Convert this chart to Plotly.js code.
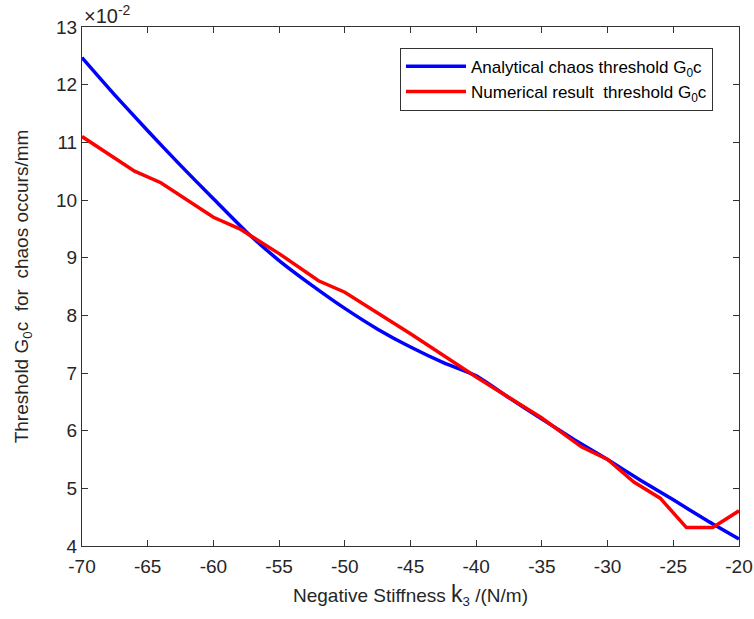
<!DOCTYPE html>
<html><head><meta charset="utf-8">
<script src="https://cdn.plot.ly/plotly-3.0.1.min.js"></script>
<style>html,body{margin:0;padding:0;background:#fff}#chart{width:754px;height:619px}</style>
</head><body><div id="chart"></div>
<script>
// Values in units of 1e-2 mm
const analyticalK3 = [-70,-67.5,-65,-62.5,-60,-57.5,-55,-52.5,-50,-47.5,-45,-42.5,-40,-37.5,-35,-32.5,-30,-27.5,-25,-22.5,-20];
const analyticalG = [12.47,11.82,11.2,10.6,10.02,9.45,8.95,8.52,8.12,7.76,7.45,7.18,6.95,6.57,6.2,5.84,5.5,5.14,4.8,4.45,4.12];
const numericalK3 = [-70,-66,-64,-60,-58,-55,-52,-50,-45,-40,-35,-32,-30,-28,-26,-24,-22,-20];
const numericalG = [11.1,10.5,10.3,9.7,9.5,9.07,8.6,8.4,7.68,6.93,6.22,5.72,5.5,5.11,4.83,4.32,4.32,4.61];
const xTicks = [-70,-65,-60,-55,-50,-45,-40,-35,-30,-25,-20];
const yTicks = [4,5,6,7,8,9,10,11,12,13];

const font = "Liberation Sans, Arial, sans-serif";
const traces = [
  {x: analyticalK3, y: analyticalG, mode: 'lines', name: 'Analytical chaos threshold G<sub>0</sub>c',
   line: {color: '#0000ff', width: 3.5, shape: 'spline', smoothing: 0.6}},
  {x: numericalK3, y: numericalG, mode: 'lines', name: 'Numerical result  threshold G<sub>0</sub>c',
   line: {color: '#ff0000', width: 3.5}}
];
const axisCommon = {showgrid: false, zeroline: false, showline: true, mirror: 'ticks', linecolor: '#333',
  linewidth: 1, ticks: 'inside', ticklen: 6, tickcolor: '#333', tickfont: {family: font, size: 19, color: '#262626'}};
const layout = {
  width: 754, height: 619,
  margin: {l: 82, r: 15, t: 27, b: 73},
  paper_bgcolor: '#fff', plot_bgcolor: '#fff',
  font: {family: font, color: '#262626'},
  xaxis: Object.assign({}, axisCommon, {range: [-70, -20], tickvals: xTicks, ticktext: xTicks.map(String), ticklabelstandoff: 3,
    title: {text: 'Negative Stiffness <span style="font-size:23px">k</span><sub>3</sub> /(N/m)', font: {family: font, size: 19, color: '#262626'}, standoff: 12}}),
  yaxis: Object.assign({}, axisCommon, {range: [4, 13], tickvals: yTicks, ticktext: yTicks.map(String),
    title: {text: 'Threshold G<sub>0</sub>c  for  chaos occurs/mm', font: {family: font, size: 19, color: '#262626'}, standoff: 22}}),
  legend: {x: 0.484, y: 0.96, xanchor: 'left', yanchor: 'top', bgcolor: '#fff', bordercolor: '#333', borderwidth: 1,
    font: {family: font, size: 17, color: '#000'}, itemwidth: 60, tracegroupgap: 4},
  showlegend: true,
  annotations: [{xref: 'paper', yref: 'paper', x: 0, y: 1, xanchor: 'left', yanchor: 'bottom', yshift: -2,
    text: '×10<sup>-2</sup>', showarrow: false, font: {family: font, size: 20, color: '#262626'}}]
};
Plotly.newPlot('chart', traces, layout, {displayModeBar: false, staticPlot: true});
</script></body></html>
